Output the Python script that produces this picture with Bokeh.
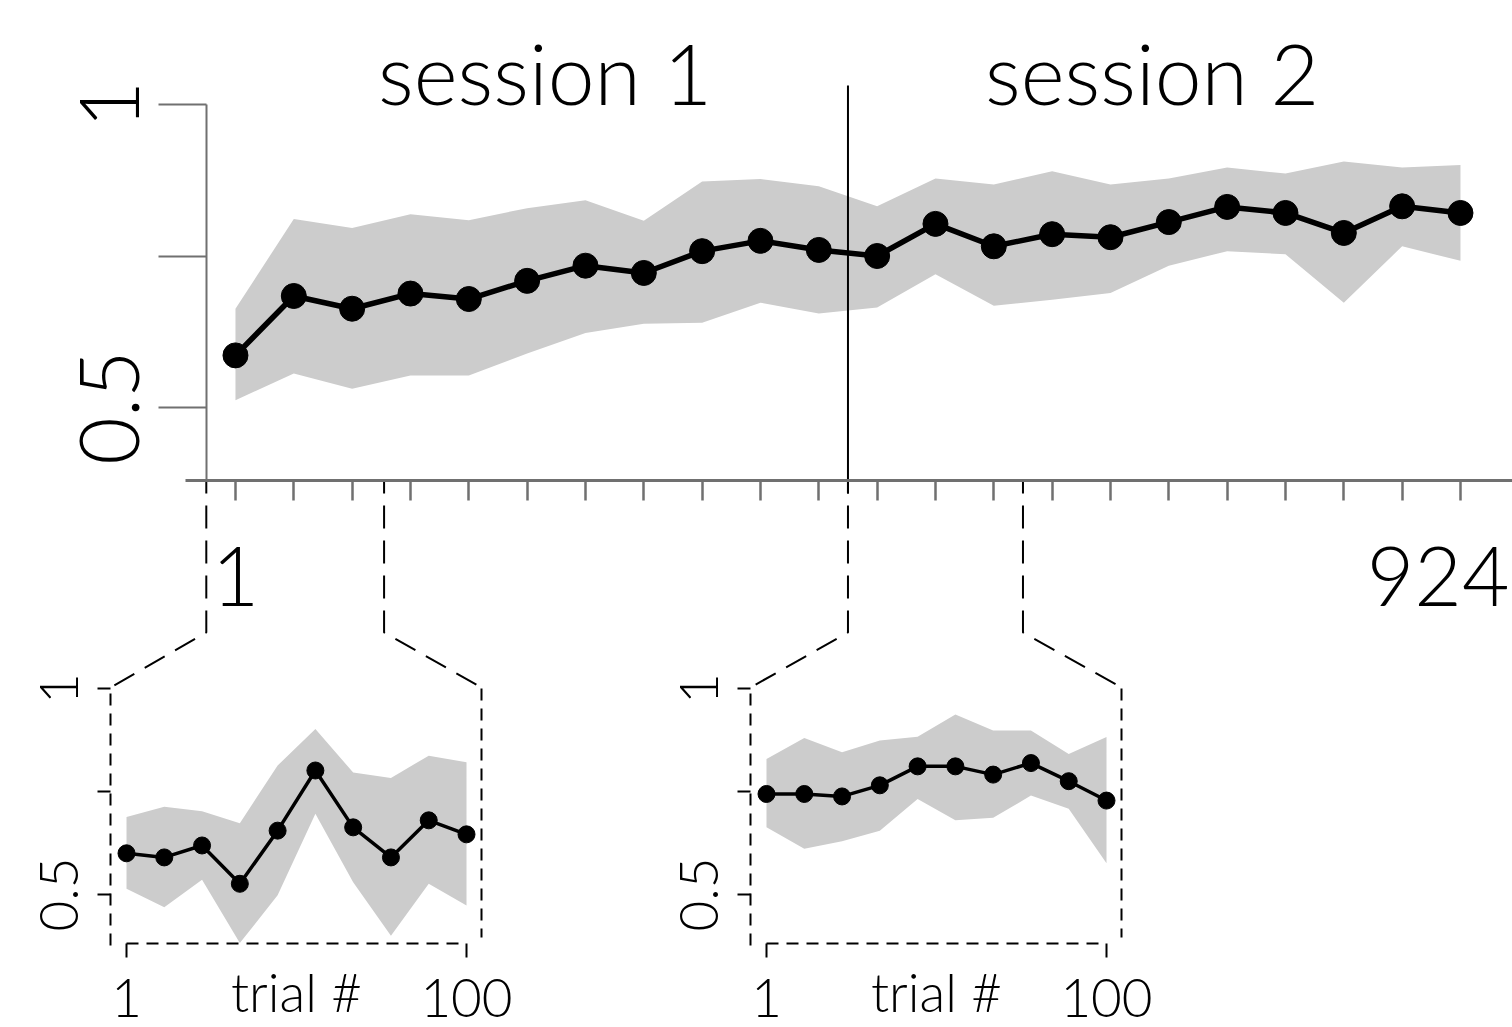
import numpy as np
from bokeh.plotting import figure
from bokeh.models import Range1d, LinearAxis, FixedTicker
from bokeh.core.properties import value
from bokeh.embed import file_html
from bokeh.resources import INLINE

# ---------------- data ----------------
# main panel: 22 bins of 42 trials over 924 trials (bin centres)
main_trials = [21, 63, 105, 147, 189, 231, 273, 315, 357, 399, 441,
               483, 525, 567, 609, 651, 693, 735, 777, 819, 861, 903]
main_acc = [0.586, 0.684, 0.663, 0.688, 0.679, 0.709, 0.734, 0.722, 0.758, 0.775, 0.760,
            0.750, 0.803, 0.766, 0.786, 0.781, 0.806, 0.831, 0.821, 0.788, 0.832, 0.821]
main_upper = [0.663, 0.811, 0.796, 0.819, 0.809, 0.829, 0.842, 0.808, 0.873, 0.877, 0.865,
              0.832, 0.878, 0.868, 0.890, 0.868, 0.878, 0.896, 0.886, 0.906, 0.896, 0.900]
main_lower = [0.512, 0.556, 0.531, 0.553, 0.553, 0.589, 0.623, 0.638, 0.640, 0.673, 0.655,
              0.665, 0.720, 0.668, 0.678, 0.689, 0.734, 0.758, 0.753, 0.673, 0.766, 0.742]
main_y_ticks = [0.5, 0.75, 1.0]
main_y_labels = ["0.5", "", "1"]
main_x_labels = ["1", "924"]
session_labels = ["session 1", "session 2"]
session_label_trials = [244, 681]
session_boundary = 462
zoom_windows = [(0, 128), (462, 588)]

# insets: first 100 trials of each session
inset_trials = [1, 12, 23, 34, 45, 56, 67, 78, 89, 100]
inset1_acc = [0.600, 0.590, 0.619, 0.526, 0.655, 0.801, 0.663, 0.590, 0.680, 0.646]
inset1_upper = [0.688, 0.713, 0.702, 0.673, 0.813, 0.902, 0.796, 0.783, 0.837, 0.821]
inset1_lower = [0.514, 0.469, 0.536, 0.382, 0.498, 0.696, 0.530, 0.400, 0.526, 0.473]
inset2_acc = [0.744, 0.744, 0.738, 0.765, 0.811, 0.811, 0.791, 0.819, 0.775, 0.728]
inset2_upper = [0.829, 0.880, 0.845, 0.874, 0.883, 0.937, 0.898, 0.898, 0.841, 0.882]
inset2_lower = [0.663, 0.611, 0.629, 0.655, 0.732, 0.680, 0.686, 0.740, 0.708, 0.576]
inset_x_ticks = [1, 100]
inset_x_labels = ["1", "100"]
inset_x_title = "trial #"

# ---------------- layout / style ----------------
W, H = 1512, 1027
FONT_NAME = "Lato Light"
FONT = value(FONT_NAME)
BAND = "#cccccc"
AXGREY = "#707070"

def make_range(d0, d1, p0, p1, P_start, P_end):
    k = (d1 - d0) / (p1 - p0)
    return Range1d(start=d0 + (P_start - p0) * k, end=d0 + (P_end - p0) * k)

def to_px(d, d0, d1, p0, p1):
    return p0 + (d - d0) * (p1 - p0) / (d1 - d0)

def to_data(p, d0, d1, p0, p1):
    return d0 + (p - p0) * (d1 - d0) / (p1 - p0)

# panel geometry (pixel boxes)
MX = (0, 924, 205.8, 205.8 + 924 * 1.3889)
MY = (0.5, 1.0, 407, 104)
I1X = (1, 100, 126, 466)
I2X = (1, 100, 766, 1106)
IY = (0.5, 1.0, 894, 688)

p = figure(width=W, height=H, output_backend="svg", toolbar_location=None,
           x_range=Range1d(0, W), y_range=Range1d(H, 0),
           x_axis_location=None, y_axis_location=None, min_border=0,
           outline_line_color=None, background_fill_color="white",
           border_fill_color="white")
p.grid.visible = False

p.extra_x_ranges = {"mx": make_range(*MX, 0, W),
                    "i1x": make_range(*I1X, 0, W),
                    "i2x": make_range(*I2X, 0, W)}
p.extra_y_ranges = {"my": make_range(*MY, H, 0),
                    "iy": make_range(*IY, H, 0)}

# ---------------- main panel ----------------
main_axis_v = to_data(480, *MY)
p.varea(x=main_trials, y1=main_lower, y2=main_upper, fill_color=BAND,
        x_range_name="mx", y_range_name="my")
p.line(main_trials, main_acc, line_color="black", line_width=5.5,
       x_range_name="mx", y_range_name="my")
p.scatter(main_trials, main_acc, size=25, fill_color="black", line_color="black",
          x_range_name="mx", y_range_name="my")

# session divider
p.segment(x0=[session_boundary], y0=[to_data(85, *MY)], x1=[session_boundary],
          y1=[to_data(493, *MY)], line_color="black", line_width=2,
          x_range_name="mx", y_range_name="my")
p.text(x=session_label_trials, y=[to_data(72, *MY)] * 2, text=session_labels,
       text_font=FONT, text_font_size="84px", text_align="center",
       text_baseline="middle", text_color="black",
       x_range_name="mx", y_range_name="my")

yax = LinearAxis(x_range_name="mx", y_range_name="my", fixed_location=0,
                 bounds=(main_axis_v, 1.0), ticker=FixedTicker(ticks=main_y_ticks),
                 major_label_overrides=dict(zip(main_y_ticks, main_y_labels)),
                 major_tick_out=48, major_tick_in=0, minor_tick_out=0, minor_tick_in=0,
                 axis_line_color=AXGREY, axis_line_width=2,
                 major_tick_line_color=AXGREY, major_tick_line_width=2,
                 major_label_text_font=FONT_NAME, major_label_text_font_size="82px",
                 major_label_orientation="vertical", major_label_standoff=19,
                 major_label_text_color="black")
p.add_layout(yax, "left")

xax = LinearAxis(x_range_name="mx", y_range_name="my", fixed_location=main_axis_v,
                 bounds=(to_data(185, *MX), to_data(W, *MX)),
                 ticker=FixedTicker(ticks=main_trials),
                 major_label_overrides={t: "" for t in main_trials},
                 major_tick_out=20, major_tick_in=0, minor_tick_out=0, minor_tick_in=0,
                 axis_line_color=AXGREY, axis_line_width=3,
                 major_tick_line_color=AXGREY, major_tick_line_width=2.5,
                 major_label_text_font_size="1px")
p.add_layout(xax, "below")
# first / last trial labels under the first and last bins
lab_y = to_data(576, *MY)
p.text(x=[main_trials[0]], y=[lab_y], text=[main_x_labels[0]], text_font=FONT,
       text_font_size="82px", text_align="center", text_baseline="middle",
       text_color="black", x_range_name="mx", y_range_name="my")
p.text(x=[main_trials[-1]], y=[lab_y], text=[main_x_labels[1]], text_font=FONT,
       text_font_size="82px", text_align="right", text_baseline="middle",
       x_offset=49, text_color="black", x_range_name="mx", y_range_name="my")

# ---------------- insets ----------------
inset_defs = [("i1x", I1X, inset1_acc, inset1_upper, inset1_lower),
              ("i2x", I2X, inset2_acc, inset2_upper, inset2_lower)]
inset_axis_v = to_data(943, *IY)
for xname, IX, acc, up, lo in inset_defs:
    p.varea(x=inset_trials, y1=lo, y2=up, fill_color=BAND,
            x_range_name=xname, y_range_name="iy")
    p.line(inset_trials, acc, line_color="black", line_width=3.5,
           x_range_name=xname, y_range_name="iy")
    p.scatter(inset_trials, acc, size=17, fill_color="black", line_color="black",
              x_range_name=xname, y_range_name="iy")
    left_x = to_data(IX[2] - 16, *IX)
    right_x = to_data(IX[3] + 15, *IX)
    iyax = LinearAxis(x_range_name=xname, y_range_name="iy", fixed_location=left_x,
                      bounds=(to_data(945, *IY), 1.0), ticker=FixedTicker(ticks=main_y_ticks),
                      major_label_overrides=dict(zip(main_y_ticks, main_y_labels)),
                      major_tick_out=13, major_tick_in=0, minor_tick_out=0, minor_tick_in=0,
                      axis_line_color="black", axis_line_width=2, axis_line_dash="12 8",
                      major_tick_line_color="black", major_tick_line_width=2,
                      major_label_text_font=FONT_NAME, major_label_text_font_size="53px",
                      major_label_orientation="vertical", major_label_standoff=20,
                      major_label_text_color="black")
    p.add_layout(iyax, "left")
    ixax = LinearAxis(x_range_name=xname, y_range_name="iy", fixed_location=inset_axis_v,
                      bounds=(inset_x_ticks[0], inset_x_ticks[-1]),
                      ticker=FixedTicker(ticks=inset_x_ticks),
                      major_label_overrides=dict(zip(inset_x_ticks, inset_x_labels)),
                      major_tick_out=14, major_tick_in=0, minor_tick_out=0, minor_tick_in=0,
                      axis_line_color="black", axis_line_width=2, axis_line_dash="12 8",
                      major_tick_line_color="black", major_tick_line_width=2,
                      major_label_text_font=FONT_NAME, major_label_text_font_size="53px",
                      major_label_standoff=21, major_label_text_color="black")
    p.add_layout(ixax, "below")
    p.text(x=[(inset_x_ticks[0] + inset_x_ticks[-1]) / 2], y=[to_data(991, *IY)],
           text=[inset_x_title], text_font=FONT, text_font_size="53px",
           text_align="center", text_baseline="middle", text_color="black",
           x_range_name=xname, y_range_name="iy")
    p.segment(x0=[right_x], y0=[1.0], x1=[right_x], y1=[to_data(937, *IY)],
              line_color="black", line_width=2, line_dash="12 8",
              x_range_name=xname, y_range_name="iy")

# ---------------- connectors (page pixel coordinates) ----------------
xs, ys = [], []
for (w0, w1), IX in zip(zoom_windows, [I1X, I2X]):
    corner_l = IX[2] - 16
    corner_r = IX[3] + 15
    for w, cx in ((w0, corner_l), (w1, corner_r)):
        px = to_px(w, *MX)
        xs.append([px, px, cx])
        ys.append([480, 632, 687])
p.multi_line(xs, ys, line_color="black", line_width=2, line_dash="23 12",
             line_dash_offset=10)

open("out.html", "w").write(file_html(p, INLINE))
